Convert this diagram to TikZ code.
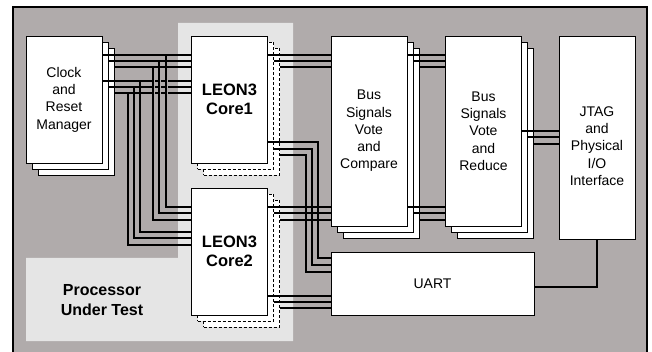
\documentclass[tikz,border=0pt]{standalone}
\usepackage{fontspec}
\setmainfont{Liberation Sans}
\definecolor{framegray}{RGB}{176,171,171}
\definecolor{putgray}{RGB}{229,229,229}

\begin{document}
\begin{tikzpicture}[x=1pt,y=-1pt,
    box/.style={draw, fill=white, line width=0.7pt, minimum width=76pt, inner sep=0pt,
      align=center, font=\fontsize{14}{17.3}\selectfont},
    dbox/.style={box, dash pattern=on 3pt off 2pt},
    corebox/.style={box, minimum height=127pt, font=\fontsize{16.5}{19.5}\selectfont\bfseries},
    wire/.style={line width=1.1pt}]
        \useasboundingbox (0,0) rectangle (652,352);

        % Frame and processor-under-test area
        \draw[fill=framegray, line width=1.6pt] (13,7) rectangle (647,356);
        \fill[putgray] (178,23) -- (293,23) -- (293,341) -- (26,341) -- (26,258) -- (178,258) -- cycle;
        \node[align=center, font=\fontsize{16}{20}\selectfont\bfseries] (put) at (102,300) {Processor\\Under Test};

        % Clock and reset manager
        \foreach \n/\d in {c/12,b/6}
        \node[box, minimum height=127pt] (clk\n) at (64+\d,99.5+\d) {};
        \node[box, minimum height=127pt] (clk) at (64,99.5) {Clock\\and\\Reset\\Manager};

        % LEON3 cores
        \foreach \n/\d in {c/12,b/6} {
        \node[dbox, minimum height=127pt] (core1\n) at (229.5+\d,99.5+\d) {};
        \node[dbox, minimum height=127pt] (core2\n) at (229.5+\d,251.5+\d) {};
        }
        \node[corebox] (core1) at (229.5,99.5) {LEON3\\Core1};
        \node[corebox] (core2) at (229.5,251.5) {LEON3\\Core2};

        % Vote blocks
        \foreach \n/\d in {c/12,b/6} {
        \node[box, minimum height=190pt] (cmp\n) at (369+\d,131+\d) {};
        \node[box, minimum height=190pt] (red\n) at (483.5+\d,131+\d) {};
        }
        \node[box, minimum height=190pt] (cmp) at (369,131) {Bus\\Signals\\Vote\\and\\Compare};
        \node[box, minimum height=190pt] (red) at (483.5,131) {Bus\\Signals\\Vote\\and\\Reduce};

        % JTAG and UART
        \node[box, minimum height=203pt] (jtag) at (597,137.5) {};
        \node[align=center, font=\fontsize{14}{17.3}\selectfont] (jtagtxt) at (597,146) {JTAG\\and\\Physical\\I/O\\Interface};
        \node[box, minimum width=203pt, minimum height=63pt] (uart) at (432.5,283.5) {UART};

        % Clock -> cores
        \foreach \s/\y in {clk/55,clkb/61,clkc/67,clk/81,clkb/87,clkc/93}
        \draw[wire] (\s.east |- 0,\y) -- (core1.west |- 0,\y);
        \foreach \x in {153,159,166}
        \draw[framegray, line width=3pt] (\x,76) -- (\x,98);
        \foreach \x/\ya/\yb in {166/55/207,159/61/213,153/67/220,140/81/232,134/87/238,128/93/245}
        \draw[wire] (\x,\ya) -- (\x,\yb) -- (core2.west |- 0,\yb);

        % Cores -> compare and UART
        \foreach \s/\y in {core1/55,core1b/61,core1c/67,core2/207,core2b/213,core2c/220}
        \draw[wire] (\s.east |- 0,\y) -- (cmp.west |- 0,\y);
        \foreach \s/\y/\x/\z in {core1/142/318/258,core1b/149/312/265,core1c/155/306/272}
        \draw[wire] (\s.east |- 0,\y) -- (\x,\y) -- (\x,\z) -- (uart.west |- 0,\z);
        \foreach \s/\y in {core2/296,core2b/302,core2c/308}
        \draw[wire] (\s.east |- 0,\y) -- (uart.west |- 0,\y);

        % Compare -> reduce -> JTAG
        \foreach \s/\y in {cmp/55,cmpb/61,cmpc/67,cmp/207,cmpb/213,cmpc/220}
        \draw[wire] (\s.east |- 0,\y) -- (red.west |- 0,\y);
        \foreach \s/\y in {red/131,redb/137,redc/144}
        \draw[wire] (\s.east |- 0,\y) -- (jtag.west |- 0,\y);
        \draw[wire] (uart.east |- 0,287) -| (jtag.south);
      \end{tikzpicture}
\end{document}
